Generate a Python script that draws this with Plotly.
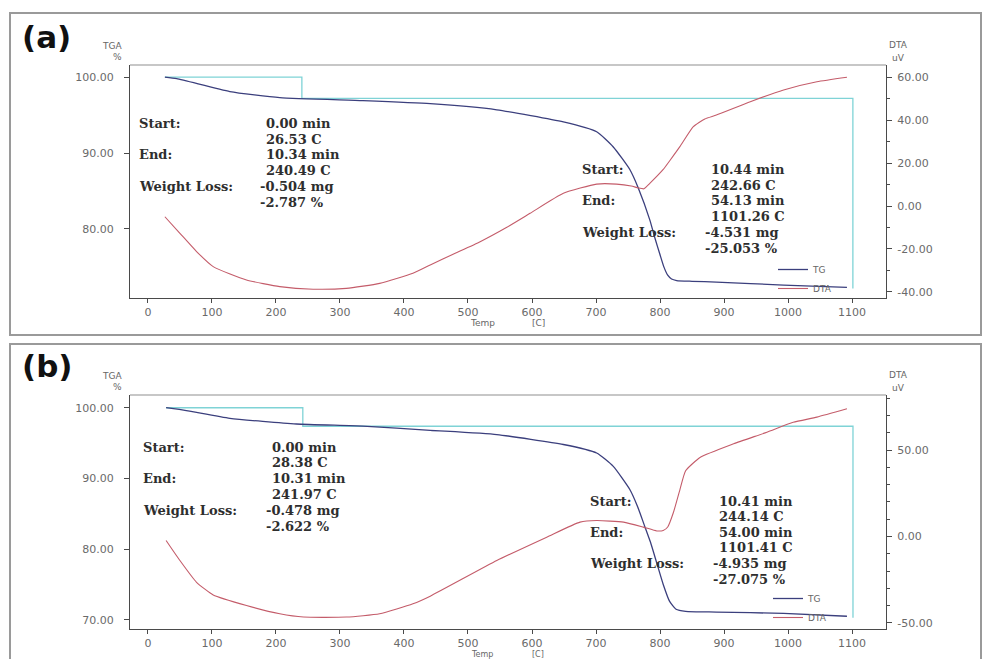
import plotly.graph_objects as go

# ---------------- data ----------------
# Panel (a)
a_tg_T = [26.5, 45, 128, 206, 336, 441, 545, 649, 701, 727, 753, 766, 784, 792, 800, 806, 812, 818, 826, 850, 888, 993, 1092]
a_tg_v = [100.0, 99.8, 98.1, 97.3, 96.9, 96.5, 95.7, 94.1, 92.8, 90.8, 87.8, 85.4, 81.2, 78.8, 76.6, 75.0, 73.9, 73.4, 73.2, 73.1, 73.0, 72.6, 72.3]
a_dta_T = [26.5, 50, 76, 102, 154, 206, 258, 310, 362, 414, 441, 480, 519, 560, 597, 649, 701, 732, 755, 766, 775, 784, 805, 816, 831, 852, 870, 888, 941, 993, 1045, 1092]
a_dta_v = [-5.0, -12.7, -21.2, -28.2, -34.4, -37.5, -38.7, -38.3, -36.0, -31.3, -27.4, -22.0, -16.6, -10.0, -3.4, 5.9, 10.2, 10.2, 9.3, 8.4, 8.0, 10.5, 17.0, 21.4, 27.6, 36.9, 40.5, 42.3, 48.5, 54.0, 57.8, 59.9]
a_step_T = [26.53, 240.49, 1101.26]
a_loss_pct = [2.787, 25.053]

# Panel (b)
b_tg_T = [28.4, 60, 128, 232, 336, 441, 545, 649, 701, 727, 753, 765, 775, 785, 795, 805, 815, 825, 840, 888, 993, 1092]
b_tg_v = [100.0, 99.6, 98.5, 97.7, 97.4, 96.8, 96.2, 94.8, 93.6, 91.7, 88.4, 86.0, 83.5, 81.0, 78.0, 75.0, 72.6, 71.5, 71.2, 71.1, 70.9, 70.5]
b_dta_T = [28.4, 50, 76, 102, 154, 206, 243, 310, 362, 414, 441, 545, 623, 675, 701, 743, 774, 795, 805, 812, 821, 831, 840, 863, 915, 967, 1008, 1045, 1092]
b_dta_v = [-2.3, -13.9, -26.5, -33.8, -39.9, -44.7, -46.6, -46.6, -44.7, -38.9, -34.5, -13.9, -0.4, 8.3, 9.2, 8.3, 5.4, 3.2, 3.5, 5.5, 14.0, 27.0, 38.0, 45.8, 53.6, 60.3, 66.0, 69.0, 73.8]
b_step_T = [28.38, 241.97, 1101.41]
b_loss_pct = [2.622, 27.075]

# tick labels
x_ticks = [0, 100, 200, 300, 400, 500, 600, 700, 800, 900, 1000, 1100]
a_tga_ticks = [80, 90, 100]
a_dta_ticks = [-40, -20, 0, 20, 40, 60]
b_tga_ticks = [70, 80, 90, 100]
b_dta_ticks = [-50, 0, 50]

# annotation texts
a_left_vals = ["0.00 min", "26.53 C", "10.34 min", "240.49 C", "-0.504 mg", "-2.787 %"]
a_right_vals = ["10.44 min", "242.66 C", "54.13 min", "1101.26 C", "-4.531 mg", "-25.053 %"]
b_left_vals = ["0.00 min", "28.38 C", "10.31 min", "241.97 C", "-0.478 mg", "-2.622 %"]
b_right_vals = ["10.41 min", "244.14 C", "54.00 min", "1101.41 C", "-4.935 mg", "-27.075 %"]
row_labels = {0: "Start:", 2: "End:", 4: "Weight Loss:"}

# ---------------- styling ----------------
W, H = 983, 659
TG_C = "#3b3f7d"
DTA_C = "#c45c6a"
STEP_C = "#7fd3d6"
AX_C = "#4a4a4a"
TICK_FONT = dict(family="DejaVu Sans", size=11, color="#6a6a6a")
TXT_FONT = dict(family="DejaVu Serif", size=13, color="#2e2e2e", weight="bold")


def px(x):
    return x / W


def py(y):
    return 1 - y / H


def step_xy(steps, losses):
    lv1 = 100.0
    lv2 = lv1 - losses[0]
    lv3 = lv2 - losses[1]
    xs = [steps[0], steps[1], steps[1], steps[2], steps[2]]
    ys = [lv1, lv1, lv2, lv2, lv3]
    return xs, ys


fig = go.Figure()

for (xa, ya, ya2, leg, tgT, tgV, dT, dV, st, ls) in [
    ("x", "y", "y2", "legend", a_tg_T, a_tg_v, a_dta_T, a_dta_v, a_step_T, a_loss_pct),
    ("x2", "y3", "y4", "legend2", b_tg_T, b_tg_v, b_dta_T, b_dta_v, b_step_T, b_loss_pct),
]:
    sx, sy = step_xy(st, ls)
    fig.add_trace(go.Scatter(x=sx, y=sy, mode="lines", xaxis=xa, yaxis=ya,
                             line=dict(color=STEP_C, width=1.3), showlegend=False,
                             hoverinfo="skip"))
    fig.add_trace(go.Scatter(x=tgT, y=tgV, mode="lines", xaxis=xa, yaxis=ya, name="TG",
                             legend=leg, line=dict(color=TG_C, width=1.3, shape="spline", smoothing=0.5)))
    fig.add_trace(go.Scatter(x=dT, y=dV, mode="lines", xaxis=xa, yaxis=ya2, name="DTA",
                             legend=leg, line=dict(color=DTA_C, width=1.1, shape="spline", smoothing=0.5)))

xdom = [px(130), px(886)]
a_dom = [py(298), py(65)]
b_dom = [py(629), py(395)]


def xaxis_cfg(anchor):
    return dict(domain=xdom, anchor=anchor, range=[-28, 1153], tickvals=x_ticks,
                ticktext=[str(v) for v in x_ticks], ticks="outside", ticklen=4,
                tickcolor=AX_C, showline=True, linecolor=AX_C, linewidth=1,
                showgrid=False, zeroline=False, tickfont=TICK_FONT)


def yaxis_cfg(dom, anchor, rng, tv, side="left", overlay=None):
    d = dict(range=rng, tickvals=tv, ticktext=[f"{v:.2f}" for v in tv], ticks="outside",
             ticklen=5, tickcolor=AX_C, showline=True, linecolor=AX_C, linewidth=1,
             showgrid=False, zeroline=False, tickfont=TICK_FONT, anchor=anchor, side=side,
             ticklabelstandoff=8 if side == "left" else 3)
    if overlay:
        d["overlaying"] = overlay
        d["minor"] = dict(dtick=10, ticks="outside", ticklen=3, tickcolor=AX_C, tick0=0)
    else:
        d["domain"] = dom
    return d


fig.update_layout(
    width=W, height=H, margin=dict(l=0, r=0, t=0, b=0),
    paper_bgcolor="white", plot_bgcolor="white",
    xaxis=xaxis_cfg("y"),
    xaxis2=xaxis_cfg("y3"),
    yaxis=yaxis_cfg(a_dom, "x", [70.9, 101.6], a_tga_ticks),
    yaxis2=yaxis_cfg(a_dom, "x", [-42.8, 65.6], a_dta_ticks, side="right", overlay="y"),
    yaxis3=yaxis_cfg(b_dom, "x2", [68.7, 101.8], b_tga_ticks),
    yaxis4=yaxis_cfg(b_dom, "x2", [-53.5, 81.8], b_dta_ticks, side="right", overlay="y3"),
    legend=dict(x=px(773), y=py(255), xanchor="left", yanchor="top", bgcolor="rgba(0,0,0,0)",
                font=dict(family="DejaVu Sans", size=9, color="#666"), tracegroupgap=0,
                itemwidth=30),
    legend2=dict(x=px(768), y=py(584), xanchor="left", yanchor="top", bgcolor="rgba(0,0,0,0)",
                 font=dict(family="DejaVu Sans", size=9, color="#666"), tracegroupgap=0,
                 itemwidth=30),
    showlegend=True,
)

shapes = []
# outer panel frames
shapes.append(dict(type="rect", xref="paper", yref="paper", x0=px(10), x1=px(981), y0=py(335), y1=py(13),
                   line=dict(color="#9a9a9a", width=2)))
shapes.append(dict(type="rect", xref="paper", yref="paper", x0=px(10), x1=px(981), y0=py(665), y1=py(344),
                   line=dict(color="#9a9a9a", width=2)))
# top border of plot areas
for yd in (a_dom, b_dom):
    shapes.append(dict(type="line", xref="paper", yref="paper", x0=xdom[0], x1=xdom[1], y0=yd[1], y1=yd[1],
                       line=dict(color="#b5b5b5", width=1.5)))
fig.update_layout(shapes=shapes)

ann = []


def add_text(x, y, t, font, xanchor="left"):
    ann.append(dict(x=px(x), y=py(y), xref="paper", yref="paper", text=t, showarrow=False,
                    xanchor=xanchor, yanchor="middle", font=font, borderpad=0))


def block(vals, lab_x, val_x, y0, dy):
    for i, v in enumerate(vals):
        y = y0 + i * dy
        if i in row_labels:
            add_text(lab_x, y, row_labels[i], TXT_FONT)
        add_text(val_x - (6 if v.startswith("-") else 0), y, v, TXT_FONT)


block(a_left_vals, 138, 265, 123.5, 15.7)
block(a_right_vals, 581, 710, 169.5, 15.7)
block(b_left_vals, 142, 271, 447, 15.8)
block(b_right_vals, 589, 718, 501, 15.6)

PANEL_FONT = dict(family="DejaVu Sans", size=31, color="#111")
add_text(46, 37, "<b>(a)</b>", PANEL_FONT, xanchor="center")
add_text(47, 366, "<b>(b)</b>", PANEL_FONT, xanchor="center")

SMALL = dict(family="DejaVu Sans", size=9, color="#666")
SMALLER = dict(family="DejaVu Sans", size=8, color="#666")
for ty in (46, 376):
    add_text(123, ty, "TGA", SMALL, xanchor="right")
    add_text(123, ty + 11, "%", SMALL, xanchor="right")
    add_text(898, ty - 1, "DTA", SMALL, xanchor="center")
    add_text(898, ty + 12, "uV", SMALL, xanchor="center")
add_text(482, 323, "Temp", SMALL, xanchor="center")
add_text(538, 323, "[C]", SMALL, xanchor="center")
add_text(482, 654, "Temp", SMALLER, xanchor="center")
add_text(538, 654, "[C]", SMALLER, xanchor="center")

fig.update_layout(annotations=ann)

fig.write_html("out.html")
